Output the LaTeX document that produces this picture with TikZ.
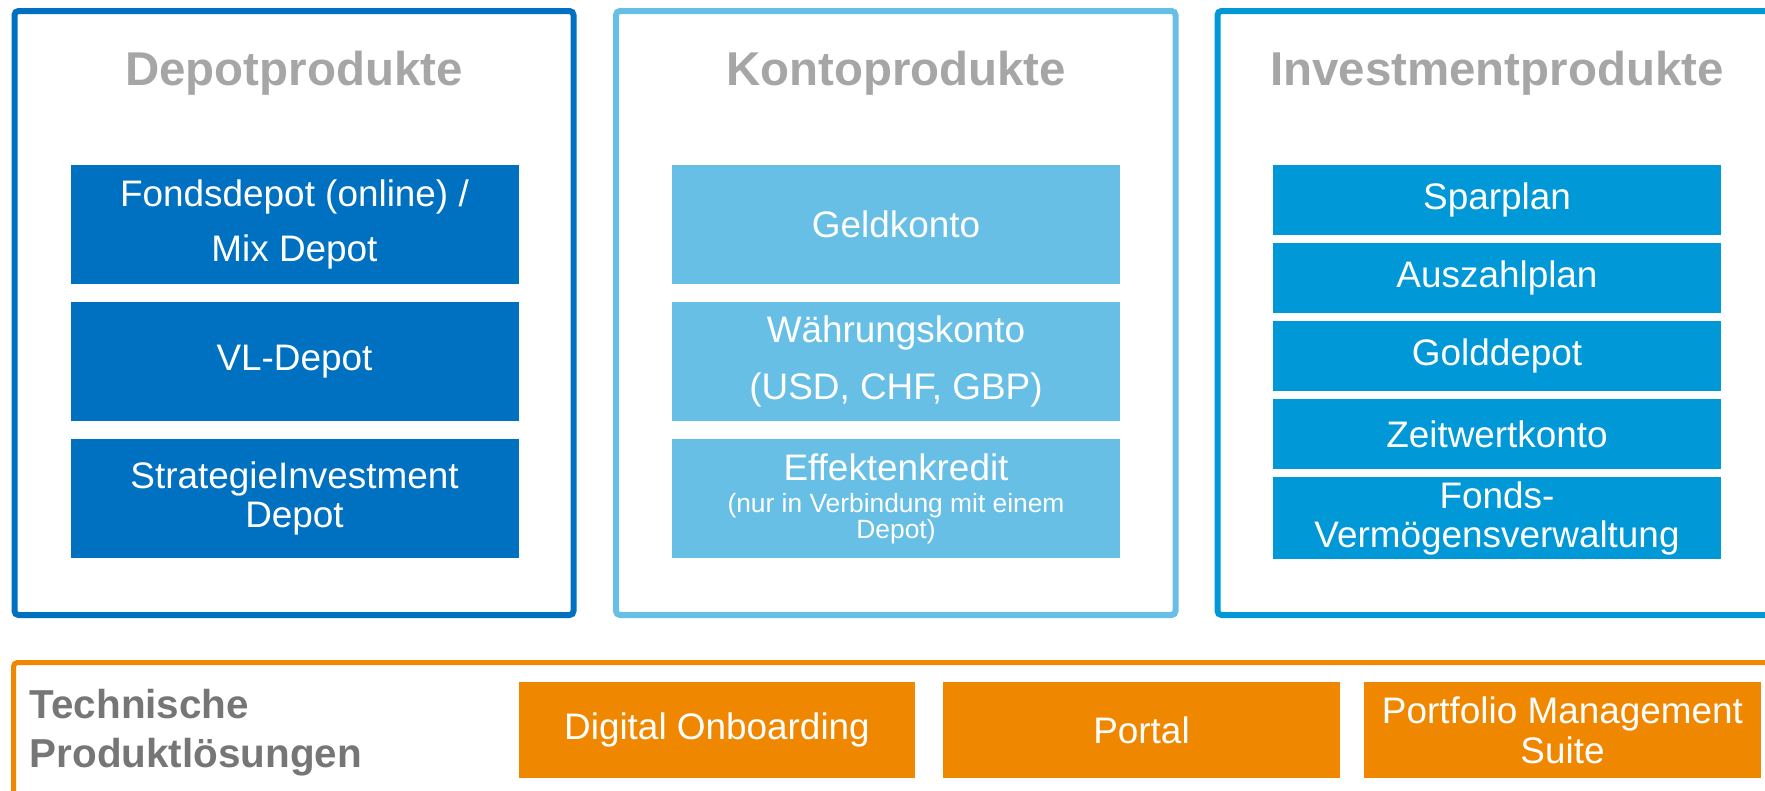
\documentclass[tikz,border=0pt]{standalone}
\usepackage{fontspec}
\setmainfont{Liberation Sans}
\usetikzlibrary{positioning}

\definecolor{depotblue}{RGB}{0,112,192}
\definecolor{kontoblue}{RGB}{103,191,229}
\definecolor{investblue}{RGB}{0,152,214}
\definecolor{loesungorange}{RGB}{240,135,0}
\definecolor{titlegray}{RGB}{166,166,166}
\definecolor{techgray}{RGB}{118,118,118}

\tikzset{
  panelframe/.style = {line width = 0.6mm, rounded corners = 0.4mm},
  headline/.style = {anchor = base, inner sep = 0, text = titlegray, font = \fontsize{13.5}{16}\selectfont\bfseries},
  productbox/.style = {shape = rectangle, inner sep = 0, outer sep = 0, text = white, align = center, minimum width = 44.8mm, font = \fontsize{10.5}{12.6}\selectfont},
  solutionbox/.style = {shape = rectangle, fill = loesungorange, inner sep = 0, outer sep = 0, text = white, align = center, minimum width = 39.7mm, minimum height = 9.6mm, font = \fontsize{10.5}{11.4}\selectfont}
}

\begin{document}
\begin{tikzpicture}[x = 0.1mm, y = -0.1mm]
\useasboundingbox (0,0) rectangle (1765,790);
\clip (0,0) rectangle (1765,790);
\draw[panelframe, draw = depotblue] (14.5,11) rectangle (573.5,615);
\draw[panelframe, draw = kontoblue] (616,11) rectangle (1175.5,615);
\draw[panelframe, draw = investblue] (1217.5,11) rectangle (1777,615);
\draw[panelframe, draw = loesungorange, line width = 0.5mm] (13.5,662.5) rectangle (1800,850);

\node[headline] (d) at (294,85) {Depotprodukte};
\node[headline] (k) at (896,85) {Kontoprodukte};
\node[headline] (i) at (1497,85) {Investmentprodukte};

% Depot
\node[productbox, fill = depotblue, minimum height = 11.9mm, font = \fontsize{10.5}{15.6}\selectfont] (1) at (294.5,224.5) {Fondsdepot (online) /\\Mix Depot};
\node[productbox, fill = depotblue, minimum height = 11.9mm, below = 1.8mm of 1] (2) {VL-Depot};
\node[productbox, fill = depotblue, minimum height = 11.9mm, font = \fontsize{10.5}{11.1}\selectfont, below = 1.8mm of 2] (3) {StrategieInvestment\\Depot};

% Konto
\node[productbox, fill = kontoblue, minimum height = 11.9mm] (4) at (896,224.5) {Geldkonto};
\node[productbox, fill = kontoblue, minimum height = 11.9mm, font = \fontsize{10.5}{16.1}\selectfont, below = 1.8mm of 4] (5) {Währungskonto\\(USD, CHF, GBP)};
\node[productbox, fill = kontoblue, minimum height = 11.9mm, font = \fontsize{10.5}{7.4}\selectfont, below = 1.8mm of 5] (6) {Effektenkredit\\[1.7pt]\fontsize{7.5}{7.4}\selectfont(nur in Verbindung mit einem\\\fontsize{7.5}{7.4}\selectfont Depot)};

% Investment
\node[productbox, fill = investblue, minimum height = 7mm] (7) at (1497,200) {Sparplan};
\node[productbox, fill = investblue, minimum height = 7mm, below = 0.8mm of 7] (8) {Auszahlplan};
\node[productbox, fill = investblue, minimum height = 7mm, below = 0.8mm of 8] (9) {Golddepot};
\node[productbox, fill = investblue, minimum height = 7mm, below = 0.8mm of 9] (10) {Zeitwertkonto};
\node[productbox, fill = investblue, minimum height = 8.2mm, font = \fontsize{10.5}{11.1}\selectfont, below = 0.8mm of 10] (11) {Fonds-\\Vermögensverwaltung};

% Technik
\node[anchor = north west, inner sep = 0, align = left, text = techgray, font = \fontsize{11.5}{14.2}\selectfont\bfseries] (t) at (29,688) {Technische\\Produktlösungen};
\node[solutionbox, minimum width = 39.6mm] (12) at (717,730) {Digital Onboarding};
\node[solutionbox, right = 2.8mm of 12] (13) {Portal};
\node[solutionbox, right = 2.4mm of 13] (14) {Portfolio Management\\Suite};
\end{tikzpicture}
\end{document}
